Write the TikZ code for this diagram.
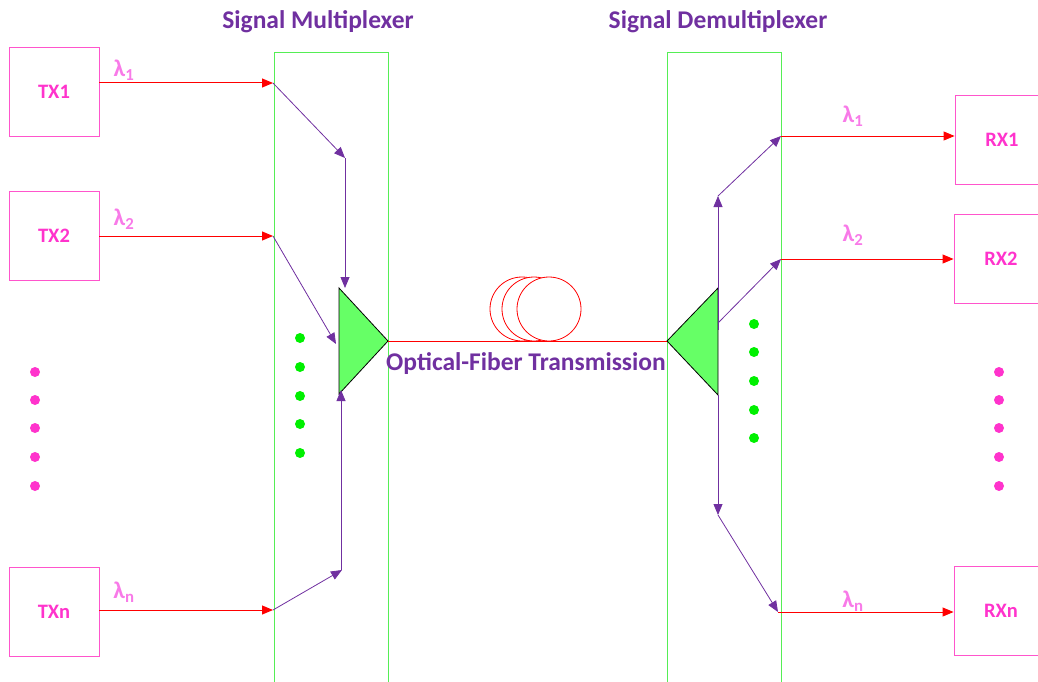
\documentclass[tikz,border=0pt]{standalone}
\usepackage{fontspec}
\setmainfont{Carlito}
\usetikzlibrary{arrows.meta}
\definecolor{mag}{HTML}{FF33CC}
\definecolor{magbox}{HTML}{FF55CC}
\definecolor{lam}{HTML}{F87AE8}
\definecolor{purp}{HTML}{7030A0}
\definecolor{grn}{HTML}{55EE55}
\definecolor{grnfill}{HTML}{66FF66}
\definecolor{dotg}{HTML}{00F000}
\tikzset{
  x=1pt,y=-1pt,
  box/.style={draw=magbox,line width=0.9pt,minimum width=90pt,minimum height=89pt,inner sep=0pt,font=\bfseries\fontsize{20.5}{20.5}\selectfont,text=mag},
  lbl/.style={font=\bfseries\fontsize{24}{24}\selectfont,text=lam,inner sep=0pt},
  redarr/.style={draw=red,line width=1pt,-{Triangle[length=11pt,width=9pt]}},
  purarr/.style={draw=purp,line width=0.8pt,-{Triangle[length=11pt,width=9pt]}},
  band/.style={draw=grn,line width=0.9pt},
  tri/.style={draw=black,line width=0.8pt,fill=grnfill},
  title/.style={font=\bfseries\fontsize{25.5}{25.5}\selectfont,text=purp},
  gdot/.style={fill=dotg,draw=none},
  mdot/.style={fill=mag,draw=none},
}
\begin{document}
\begin{tikzpicture}
\useasboundingbox (0,0) rectangle (1038,682);
\clip (0,0) rectangle (1038,682);
% bands
\draw[band] (274,52) rectangle (388,690);
\draw[band] (667,52) rectangle (781,690);
% titles
\node[title] (tmux) at (318,22) {Signal Multiplexer};
\node[title] (tdemux) at (718,22) {Signal Demultiplexer};
% TX boxes
\node[box] (tx1) at (54,91.5) {TX1};
\node[box] (tx2) at (54,235.5) {TX2};
\node[box] (txn) at (54,612) {TXn};
% RX boxes
\node[box,minimum width=94pt] (rx1) at (1002,140) {RX1};
\node[box,minimum width=94pt] (rx2) at (1001,258.5) {RX2};
\node[box,minimum width=94pt] (rxn) at (1001,611) {RXn};
% mux junctions
\coordinate (m1) at (273,83);
\coordinate (m2) at (273,236);
\coordinate (mn) at (273,610);
\coordinate (ma) at (345,158);
\coordinate (mb) at (342,570);
% triangles
\coordinate (mt) at (339,288);
\coordinate (mbt) at (339,394);
\coordinate (mtip) at (388,341);
\draw[tri] (mt) -- (mtip) -- (mbt) -- cycle;
\coordinate (dt) at (718,288);
\coordinate (dbt) at (718,395);
\coordinate (dtip) at (667,341);
\draw[tri] (dt) -- (dtip) -- (dbt) -- cycle;
% red input arrows
\draw[redarr] (tx1.east |- m1) -- (m1);
\draw[redarr] (tx2.east |- m2) -- (m2);
\draw[redarr] (txn.east |- mn) -- (mn);
\node[lbl] (l1) at (124,70) {λ\textsubscript{1}};
\node[lbl] (l2) at (124,219) {λ\textsubscript{2}};
\node[lbl] (ln) at (124,592) {λ\textsubscript{n}};
% purple mux arrows
\draw[purarr] (m1) -- (ma);
\draw[purarr] (ma) -- (345,288);
\draw[purarr] (m2) -- (336,344);
\draw[purarr] (mn) -- (mb);
\draw[purarr] (341,570) -- (341,390);
% fiber
\draw[red,line width=0.9pt] (mtip) -- (dtip);
\draw[red,line width=0.8pt] (522,309) circle (32);
\draw[red,line width=0.8pt,fill=white] (534,309) circle (32);
\draw[red,line width=0.8pt,fill=white] (549,309) circle (32);
\node[font=\bfseries\fontsize{25.5}{25.5}\selectfont,text=purp] (fib) at (526,364) {Optical-Fiber Transmission};
% demux
\coordinate (d1) at (781,136);
\coordinate (d2) at (781,259);
\coordinate (dn) at (778,612);
\coordinate (da) at (718,196);
\coordinate (db) at (718,515);
\draw[purarr] (718,330) -- (da);
\draw[purarr] (da) -- (d1);
\draw[purarr] (718,323) -- (d2);
\draw[purarr] (718,395) -- (db);
\draw[purarr] (db) -- (dn);
\draw[redarr] (d1) -- (rx1.west |- d1);
\draw[redarr] (d2) -- (rx2.west |- d2);
\draw[redarr] (dn) -- (rxn.west |- dn);
\node[lbl] (r1) at (853,116) {λ\textsubscript{1}};
\node[lbl] (r2) at (853,235) {λ\textsubscript{2}};
\node[lbl] (rn) at (853,601) {λ\textsubscript{n}};
% dots
\foreach \y in {338,367,396,424,453} \fill[gdot] (300,\y) circle (5);
\foreach \y in {324,352,381,410,438} \fill[gdot] (754,\y) circle (5);
\foreach \y in {372,400,428,457,486} {\fill[mdot] (35,\y) circle (5); \fill[mdot] (999,\y) circle (5);}
\end{tikzpicture}
\end{document}
